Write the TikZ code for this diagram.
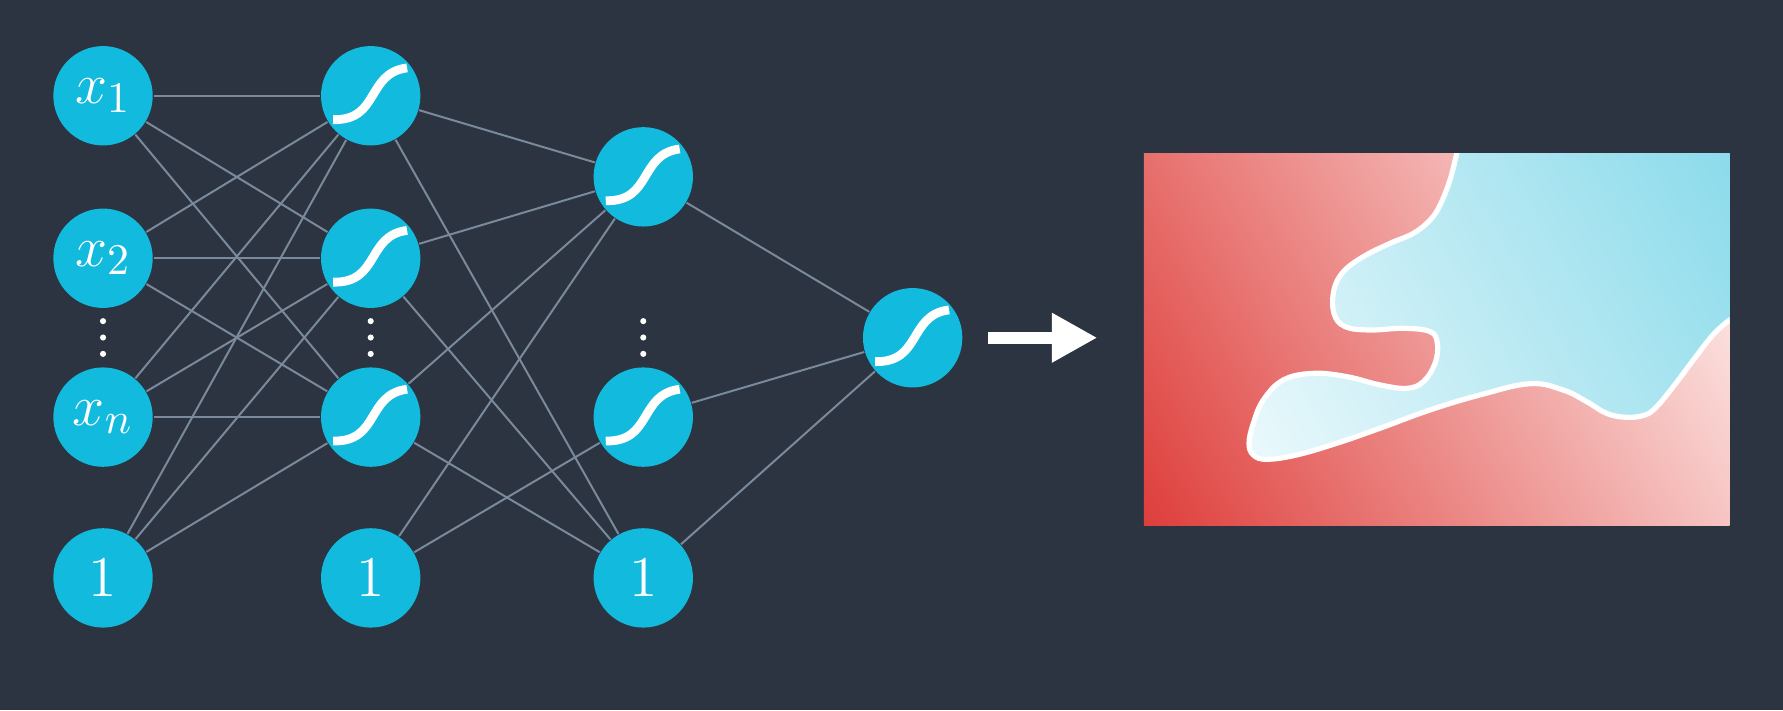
\documentclass[tikz,border=0pt]{standalone}
\usepackage{tikz}
\usetikzlibrary{calc,arrows.meta}
\definecolor{bgcol}{RGB}{43,52,64}
\definecolor{nodecol}{RGB}{18,186,221}
\definecolor{edgecol}{RGB}{122,138,156}
\definecolor{reddark}{RGB}{222,62,59}
\definecolor{redlight}{RGB}{255,246,244}
\definecolor{bluelight}{RGB}{255,255,255}
\definecolor{bluedark}{RGB}{140,219,235}
\def\sigmoid(#1){\draw[line width=2.2pt, white] ($(#1)+(-0.33,-0.21)$) .. controls ($(#1)+(0.08,-0.22)$) and ($(#1)+(-0.04,0.20)$) .. ($(#1)+(0.32,0.245)$);}

\begin{document}
\begin{tikzpicture}[
		neuron/.style={circle, fill=nodecol, minimum size=0.874cm, inner sep=0pt, text=white, font=\fontsize{15.5}{18}\selectfont},
		edge/.style={line width=0.5pt, color=edgecol},
	]
			%%%%% START %%%%%
			
			\useasboundingbox (0,0) rectangle (15.68,6.244);
			\fill[bgcol] (0,0) rectangle (15.68,6.244);
			
			\node[neuron] (x1) at (0.906, 5.402) {$x_1$};
			\node[neuron] (x2) at (0.906, 3.973) {$x_2$};
			\node[neuron] (xn) at (0.906, 2.576) {$x_n$};
			\node[neuron] (b1) at (0.906, 1.162) {$1$};
			
			\node[neuron] (h1) at (3.26, 5.402) {};
			\node[neuron] (h2) at (3.26, 3.973) {};
			\node[neuron] (hn) at (3.26, 2.576) {};
			\node[neuron] (b2) at (3.26, 1.162) {$1$};
			
			\node[neuron] (g1) at (5.657, 4.689) {};
			\node[neuron] (gn) at (5.657, 2.576) {};
			\node[neuron] (b3) at (5.657, 1.162) {$1$};
			
			\node[neuron] (out) at (8.026, 3.274) {};
			
			\foreach \a in {x1,x2,xn,b1}
				\foreach \b in {h1,h2,hn}
					\draw[edge] (\a) -- (\b);
			\foreach \a in {h1,h2,hn,b2}
				\draw[edge] (\a) -- (g1);
			\draw[edge] (b2) -- (gn);
			\foreach \a in {h1,h2,hn}
				\draw[edge] (\a) -- (b3);
			\foreach \a in {g1,gn,b3}
				\draw[edge] (\a) -- (out);
			
			\sigmoid(h1)
			\sigmoid(h2)
			\sigmoid(hn)
			\sigmoid(g1)
			\sigmoid(gn)
			\sigmoid(out)
			
			\foreach \dx in {0.906, 3.26, 5.657}
				\foreach \dy in {3.132, 3.276, 3.420}
					\fill[white] (\dx, \dy) circle (0.027);
			
			% decision region
			\coordinate (plotSW) at (10.06, 1.624);
			\coordinate (plotNE) at (15.21, 4.894);
			\coordinate (plotC) at (12.635, 3.259);
			
			\path[save path=\blueedge] (12.81, 5.3) -- plot[smooth, tension=0.65] coordinates {
				(12.810,4.894) (12.751,4.661) (12.664,4.441) (12.576,4.309) (12.429,4.192)
				(12.224,4.104) (11.989,3.987) (11.814,3.855) (11.731,3.694) (11.731,3.489)
				(11.828,3.372) (12.048,3.342) (12.341,3.357) (12.576,3.328) (12.640,3.225)
				(12.620,3.049) (12.517,2.888) (12.371,2.829) (12.136,2.859) (11.843,2.932)
				(11.550,2.961) (11.286,2.903) (11.110,2.727) (11.022,2.522) (10.984,2.346)
				(11.022,2.243) (11.139,2.205) (11.403,2.243) (11.755,2.346) (12.136,2.478)
				(12.576,2.639) (13.015,2.771) (13.455,2.870) (13.748,2.814) (13.953,2.712)
				(14.129,2.609) (14.305,2.574) (14.466,2.595) (14.569,2.668) (14.715,2.844)
				(14.891,3.078) (15.038,3.269) (15.125,3.360) (15.210,3.430)}
				-- (15.6, 3.43) -- (15.6, 5.3) -- cycle;
			
			\begin{scope}
				\clip (plotSW) rectangle (plotNE);
				\begin{scope}[transform canvas={rotate around={-60:(plotC)}}]
					\shade[top color=redlight, bottom color=reddark] ($(plotC)+(-4,-3.05)$) rectangle ($(plotC)+(4,3.05)$);
				\end{scope}
				\begin{scope}
					\clip[use path=\blueedge];
					\begin{scope}[transform canvas={rotate around={-60:(plotC)}}]
						\shade[top color=bluedark, bottom color=bluelight] ($(plotC)+(-4,-3.05)$) rectangle ($(plotC)+(4,3.05)$);
					\end{scope}
				\end{scope}
				\draw[white, line width=1.3pt, use path=\blueedge];
			\end{scope}
			
			\coordinate (arrA) at ($(out.east)+(0.22,0)$);
			\coordinate (arrB) at ($(plotSW |- out)+(-0.41,0)$);
			\draw[white, line width=3.1pt, -{Triangle[length=0.40cm, width=0.41cm]}] (arrA) -- (arrB);
			
			%%%%% END %%%%%
\end{tikzpicture}
\end{document}
